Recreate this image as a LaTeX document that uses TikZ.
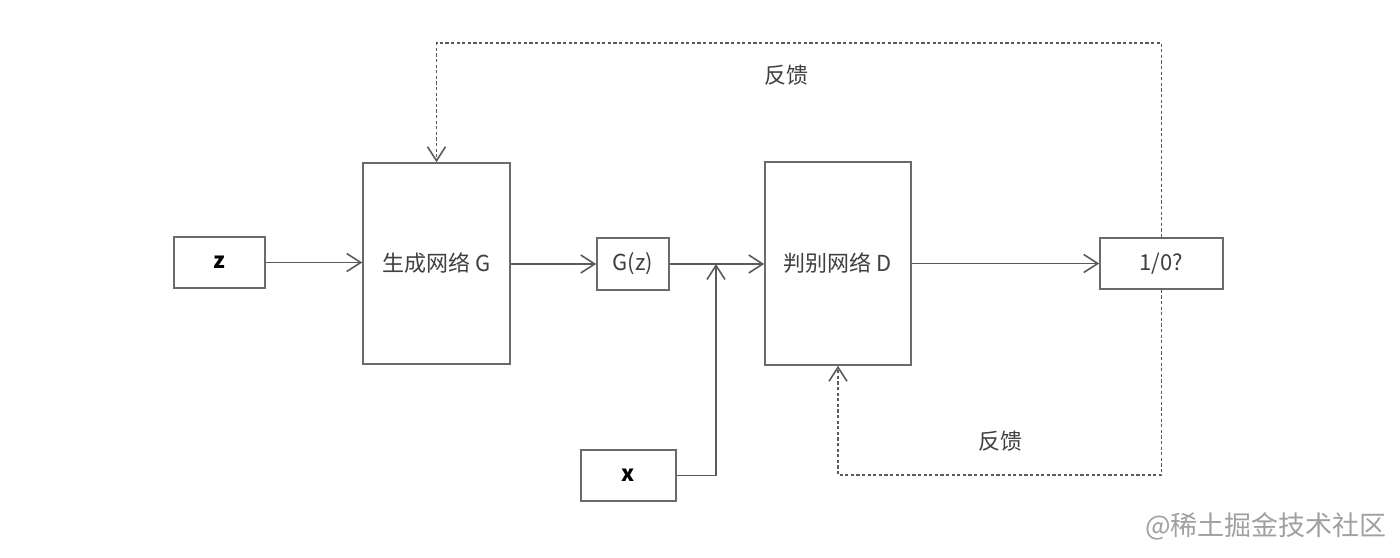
\documentclass[tikz,border=0pt]{standalone}
\usepackage{fontspec}
\setmainfont{Noto Sans CJK SC}
\usetikzlibrary{arrows.meta}
\definecolor{linec}{HTML}{5A5A5A}
\definecolor{boxc}{HTML}{6A6A6A}
\definecolor{txtc}{HTML}{404040}
\definecolor{wmc}{HTML}{A0A0A0}
\tikzset{
  blk/.style={draw=boxc, line width=0.8pt, fill=white, inner sep=0pt, font=\fontsize{11}{13}\selectfont, text=txtc},
  arr/.style={draw=linec, line width=0.8pt, -{Straight Barb[length=7pt,width=9pt,line width=0.8pt]}},
  fb/.style={draw=linec, line width=0.8pt, dash pattern=on 1.6pt off 1.2pt, -{Straight Barb[length=7pt,width=9pt,line width=0.8pt]}},
  lbl/.style={font=\fontsize{11}{13}\selectfont, text=txtc},
}
\begin{document}
\begin{tikzpicture}[x=0.5pt,y=-0.5pt]
\useasboundingbox (0,0) rectangle (1400,557);
\node[blk, minimum width=45.5pt, minimum height=25.5pt, font=\fontsize{11}{13}\selectfont\bfseries, text=black] (z) at (219.5,262.5) {z};
\node[blk, minimum width=73.5pt, minimum height=100.5pt] (G) at (436.5,263.5) {生成网络 G};
\node[blk, minimum width=36pt, minimum height=26pt] (Gz) at (633,264) {G(z)};
\node[blk, minimum width=73pt, minimum height=101.5pt] (D) at (838,263.5) {判别网络 D};
\node[blk, minimum width=61.5pt, minimum height=25.5pt] (out) at (1161.5,263.5) {1/0?};
\node[blk, minimum width=47.5pt, minimum height=25.5pt, font=\fontsize{11}{13}\selectfont\bfseries, text=black] (x) at (628.5,475.5) {x};
\coordinate (j) at (716,264);
\coordinate (top) at (0,43);
\coordinate (bot) at (0,475);
\draw[arr] (z.east) -- (z.east -| G.west);
\draw[arr] (G.east |- Gz.east) -- (Gz.west);
\draw[arr] (Gz.east) -- (Gz.east -| D.west);
\draw[arr] (x.east) -| (j);
\draw[arr] (D.east |- out.west) -- (out.west);
\draw[fb] (out.north) |- (top -| G.north) -- (G.north);
\draw[fb] (out.south) |- (bot -| D.south) -- (D.south);
\node[lbl] (fb1) at (786,75) {反馈};
\node[lbl] (fb2) at (1000,441) {反馈};
\node[font=\fontsize{13.5}{15}\selectfont, text=wmc, anchor=east] (wm) at (1394,526) {@稀土掘金技术社区};
\end{tikzpicture}
\end{document}
